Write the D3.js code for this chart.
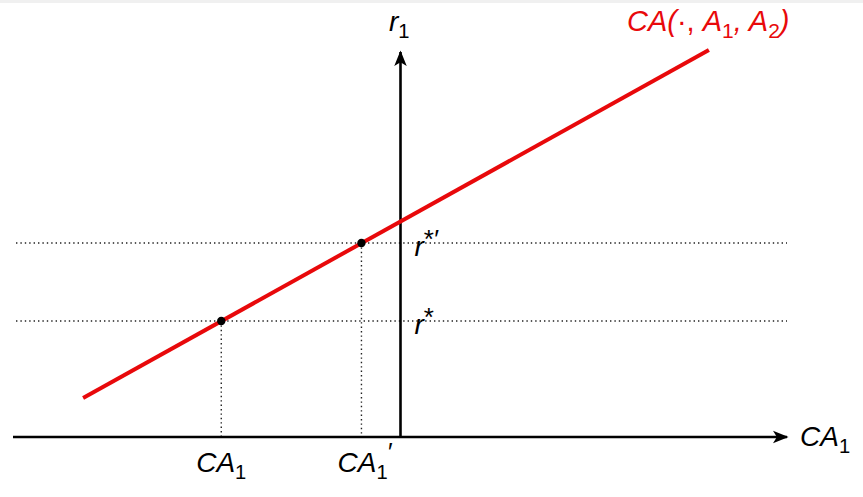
<!DOCTYPE html>
<html>
<head>
<meta charset="utf-8">
<script src="https://cdn.jsdelivr.net/npm/d3@7"></script>
<style>
  body { margin: 0; background: #fff; }
  text { font-family: "Liberation Sans", Arial, sans-serif; font-style: italic; }
</style>
</head>
<body>
<script>
// data: curve end points, equilibrium points, axis extents (in chart units)
var curveX = [-3.17, 3.08],
    curveY = [0.39, 3.87];
var pointX = [-1.79, -0.39],
    pointY = [1.16, 1.94];
var pointXLabels = ["1", "1"],   // subscripts for CA labels
    pointXPrime = [false, true],
    pointYPrime = [false, true];
var xExtent = [-3.87, 3.86],
    yExtent = [0, 3.85];

var width = 863, height = 497;
var fs = 28;

var svg = d3.select("body").append("svg")
    .attr("width", width)
    .attr("height", height);

// thin grey strip at the top
svg.append("rect").attr("width", width).attr("height", 3).attr("fill", "#f0f0f0");

var x = d3.scaleLinear().domain(xExtent).range([13, 787]);
var y = d3.scaleLinear().domain(yExtent).range([437, 52]);

var defs = svg.append("defs");
defs.append("marker")
    .attr("id", "arrow")
    .attr("viewBox", "0 0 10 10")
    .attr("refX", 9).attr("refY", 5)
    .attr("markerWidth", 6).attr("markerHeight", 6)
    .attr("markerUnits", "strokeWidth")
    .attr("orient", "auto")
  .append("path")
    .attr("d", "M0,1 L10,5 L0,9 L2.5,5 Z")
    .attr("fill", "#000");

// dotted guides
svg.selectAll(".hguide")
    .data(pointY)
  .enter().append("line")
    .attr("x1", x(xExtent[0]) + 3).attr("x2", x(xExtent[1]))
    .attr("y1", d => y(d)).attr("y2", d => y(d))
    .attr("stroke", "#222").attr("stroke-width", 1.4)
    .attr("stroke-dasharray", "1.4,3");

svg.selectAll(".vguide")
    .data(pointX)
  .enter().append("line")
    .attr("x1", d => x(d)).attr("x2", d => x(d))
    .attr("y1", (d, i) => y(pointY[i])).attr("y2", y(0))
    .attr("stroke", "#222").attr("stroke-width", 1.4)
    .attr("stroke-dasharray", "1.4,3");

// axes
svg.append("line")
    .attr("x1", x(xExtent[0])).attr("x2", x(xExtent[1]))
    .attr("y1", y(0)).attr("y2", y(0))
    .attr("stroke", "#000").attr("stroke-width", 2.6)
    .attr("marker-end", "url(#arrow)");

svg.append("line")
    .attr("x1", x(0)).attr("x2", x(0))
    .attr("y1", y(0)).attr("y2", y(yExtent[1]))
    .attr("stroke", "#000").attr("stroke-width", 2.6)
    .attr("marker-end", "url(#arrow)");

// red CA curve
svg.append("line")
    .attr("x1", x(curveX[0])).attr("y1", y(curveY[0]))
    .attr("x2", x(curveX[1])).attr("y2", y(curveY[1]))
    .attr("stroke", "#e8090b").attr("stroke-width", 4);

svg.selectAll(".pt")
    .data(pointX)
  .enter().append("circle")
    .attr("cx", d => x(d)).attr("cy", (d, i) => y(pointY[i]))
    .attr("r", 4.2).attr("fill", "#000");

// labels
function subLabel(sel, base, sub, prime, size) {
  sel.append("tspan").text(base);
  sel.append("tspan").attr("font-size", size * 0.72).attr("dy", 7).attr("font-style", "normal").text(sub);
  if (prime) {
    sel.append("tspan").attr("font-size", size * 0.9).attr("dy", -18).attr("dx", -1).text("′");
  }
}

svg.selectAll(".xlab")
    .data(pointX)
  .enter().append("text")
    .attr("x", (d, i) => x(d) + (pointXPrime[i] ? 3 : 0)).attr("y", 472)
    .attr("text-anchor", "middle")
    .attr("font-size", fs)
    .each(function(d, i) { subLabel(d3.select(this), "CA", pointXLabels[i], pointXPrime[i], fs); });

svg.selectAll(".ylab")
    .data(pointY)
  .enter().append("text")
    .attr("x", x(0) + 14).attr("y", d => y(d) + 13)
    .attr("font-size", fs)
    .each(function(d, i) {
      var t = d3.select(this);
      t.append("tspan").text("r");
      t.append("tspan").attr("font-size", 26).attr("dy", -8).attr("font-style", "normal").text("*");
      if (pointYPrime[i]) t.append("tspan").attr("font-size", 26).attr("dx", -1).text("′");
    });

var xAxisLab = svg.append("text")
    .attr("x", 800).attr("y", 446)
    .attr("font-size", fs);
subLabel(xAxisLab, "CA", "1", false, fs);

var yAxisLab = svg.append("text")
    .attr("x", 389).attr("y", 31)
    .attr("font-size", fs);
subLabel(yAxisLab, "r", "1", false, fs);

var curveLab = svg.append("text")
    .attr("x", 627).attr("y", 31)
    .attr("font-size", 29)
    .attr("fill", "#e8090b");
curveLab.append("tspan").text("CA(");
curveLab.append("tspan").attr("font-style", "normal").text("·, ");
curveLab.append("tspan").text("A");
curveLab.append("tspan").attr("font-size", 21).attr("dy", 7).attr("font-style", "normal").text("1");
curveLab.append("tspan").attr("dy", -7).text(", A");
curveLab.append("tspan").attr("font-size", 21).attr("dy", 7).attr("font-style", "normal").text("2");
curveLab.append("tspan").attr("dy", -7).text(")");
</script>
</body>
</html>
